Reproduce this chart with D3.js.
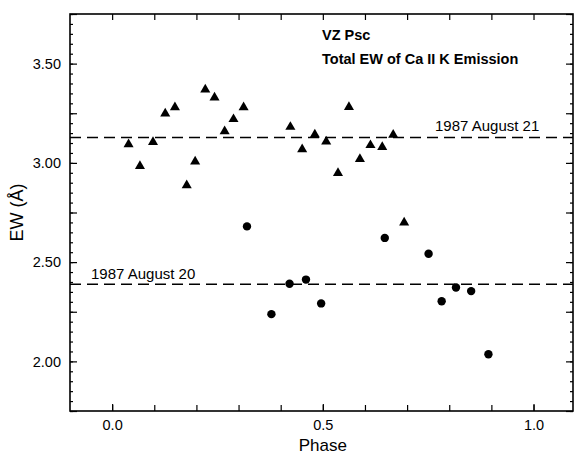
<!DOCTYPE html>
<html>
<head>
<meta charset="utf-8">
<script src="https://cdn.jsdelivr.net/npm/d3@7"></script>
<style>
  body { margin: 0; background: #fff; }
  svg { display: block; font-family: "Liberation Sans", Arial, Helvetica, sans-serif; }
  .tick line { stroke: #000; stroke-width: 1.2; }
  .tick text { fill: #000; font-size: 14.5px; }
</style>
</head>
<body>
<svg id="chart" width="574" height="455"></svg>
<script>
// VZ Psc — total EW of Ca II K emission vs phase, two nights

// 1987 August 21 (triangles)
const aug21Phase = [0.039, 0.066, 0.097, 0.126, 0.149, 0.177, 0.197, 0.221, 0.243, 0.267, 0.288, 0.312,
                    0.423, 0.451, 0.481, 0.508, 0.536, 0.562, 0.588, 0.613, 0.641, 0.667, 0.693];
const aug21EW    = [3.094, 2.984, 3.105, 3.248, 3.280, 2.887, 3.007, 3.369, 3.329, 3.159, 3.220, 3.280,
                    3.181, 3.068, 3.142, 3.107, 2.949, 3.281, 3.019, 3.089, 3.079, 3.141, 2.699];

// 1987 August 20 (circles)
const aug20Phase = [0.320, 0.378, 0.421, 0.460, 0.496, 0.647, 0.751, 0.782, 0.816, 0.852, 0.893];
const aug20EW    = [2.680, 2.238, 2.391, 2.412, 2.292, 2.622, 2.542, 2.303, 2.372, 2.354, 2.036];

// nightly means (dashed lines)
const meanLines = [
  { label: "1987 August 21", ew: 3.128 },
  { label: "1987 August 20", ew: 2.388 }
];

const xMinorTicks = d3.range(0, 11).map(i => i / 10);
const xLabelTicks = [0, 0.5, 1.0];
const yMinorTicks = d3.range(35, 76).map(i => i / 20);
const yMidTicks   = [1.75, 2.0, 2.25, 2.5, 2.75, 3.0, 3.25, 3.5, 3.75];
const yLabelTicks = [2.0, 2.5, 3.0, 3.5];

const L = 70, R = 573, T = 14, B = 411;

const x = d3.scaleLinear().domain([-0.1, 1.0937]).range([L, R]);
const y = d3.scaleLinear().domain([1.75, 3.75]).range([B, T]);

const svg = d3.select("#chart");

// ticks — all pointing into the plot
function ticksOnly(axis) {
  return g => { g.call(axis.tickFormat("")); g.select(".domain").remove(); };
}

svg.append("g").attr("transform", `translate(0,${B})`)
  .call(ticksOnly(d3.axisBottom(x).tickValues(xMinorTicks).tickSize(-6)));
svg.append("g").attr("transform", `translate(0,${B})`)
  .call(g => {
    g.call(d3.axisBottom(x).tickValues(xLabelTicks).tickSize(-7).tickPadding(9).tickFormat(d3.format(".1f")));
    g.select(".domain").remove();
  });
svg.append("g").attr("transform", `translate(0,${T})`)
  .call(ticksOnly(d3.axisTop(x).tickValues(xMinorTicks).tickSize(-6)));

svg.append("g").attr("transform", `translate(${L},0)`)
  .call(ticksOnly(d3.axisLeft(y).tickValues(yMinorTicks).tickSize(-3)));
svg.append("g").attr("transform", `translate(${L},0)`)
  .call(ticksOnly(d3.axisLeft(y).tickValues(yMidTicks).tickSize(-7)));
svg.append("g").attr("transform", `translate(${L},0)`)
  .call(g => {
    g.call(d3.axisLeft(y).tickValues(yLabelTicks).tickSize(0).tickPadding(9).tickFormat(d3.format(".2f")));
    g.select(".domain").remove();
  });
svg.append("g").attr("transform", `translate(${R},0)`)
  .call(ticksOnly(d3.axisRight(y).tickValues(yMinorTicks).tickSize(-3)));
svg.append("g").attr("transform", `translate(${R},0)`)
  .call(ticksOnly(d3.axisRight(y).tickValues(yMidTicks).tickSize(-7)));

// frame
svg.append("rect")
  .attr("x", L).attr("y", T).attr("width", R - L).attr("height", B - T)
  .attr("fill", "none").attr("stroke", "#000").attr("stroke-width", 1.6);

// mean lines + labels
svg.append("g").selectAll("line")
  .data(meanLines).enter().append("line")
  .attr("x1", L).attr("x2", R)
  .attr("y1", d => y(d.ew)).attr("y2", d => y(d.ew))
  .attr("stroke", "#000").attr("stroke-width", 1.5)
  .attr("stroke-dasharray", "11,6");

svg.append("text")
  .attr("x", 435).attr("y", y(meanLines[0].ew) - 6)
  .attr("font-size", 15).text(meanLines[0].label);
svg.append("text")
  .attr("x", 91).attr("y", y(meanLines[1].ew) - 5)
  .attr("font-size", 15).text(meanLines[1].label);

// points
const tri = d3.symbol().type(d3.symbolTriangle).size(44);
svg.append("g").selectAll("path")
  .data(d3.zip(aug21Phase, aug21EW)).enter().append("path")
  .attr("d", tri)
  .attr("transform", d => `translate(${x(d[0])},${y(d[1])})`)
  .attr("fill", "#000");

svg.append("g").selectAll("circle")
  .data(d3.zip(aug20Phase, aug20EW)).enter().append("circle")
  .attr("cx", d => x(d[0])).attr("cy", d => y(d[1]))
  .attr("r", 4.2).attr("fill", "#000");

// titles
svg.append("text").attr("x", 322).attr("y", 40)
  .attr("font-size", 14.5).attr("font-weight", "bold").text("VZ Psc");
svg.append("text").attr("x", 322).attr("y", 64)
  .attr("font-size", 14.5).attr("font-weight", "bold").text("Total EW of Ca II K Emission");

// axis titles
svg.append("text").attr("x", x(0.5)).attr("y", 451)
  .attr("text-anchor", "middle").attr("font-size", 17).text("Phase");
svg.append("text")
  .attr("transform", `translate(23,${(T + B) / 2}) rotate(-90)`)
  .attr("text-anchor", "middle").attr("font-size", 18).text("EW (Å)");
</script>
</body>
</html>
